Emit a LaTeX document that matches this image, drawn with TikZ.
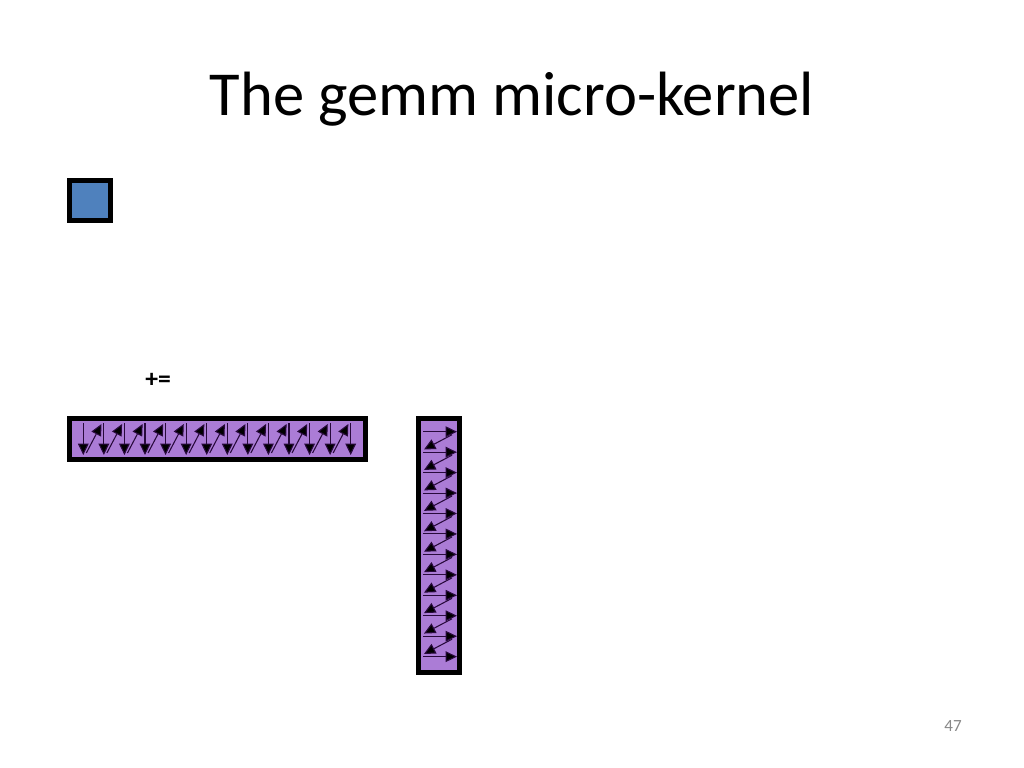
\documentclass[tikz,border=0pt]{standalone}
\usepackage{fontspec}
\setmainfont{Carlito}
\usetikzlibrary{arrows.meta}
\definecolor{barpurple}{RGB}{171,124,214}
\definecolor{boxblue}{RGB}{79,129,189}
\definecolor{arrowline}{RGB}{40,10,60}
\definecolor{pagenum}{RGB}{137,137,137}
\tikzset{
  framebox/.style={draw=black, line width=3.5pt},
  flow/.style={draw=arrowline, line width=0.75pt, -{Triangle[length=8pt,width=7.5pt,fill=black]}},
}
\begin{document}
\begin{tikzpicture}[x=0.703125pt, y=-0.703125pt]
\useasboundingbox[fill=white] (0,0) rectangle (1024,768);
% title
\node[anchor=base, font=\fontsize{44}{50}\selectfont] (title) at (512,116) {The gemm micro-kernel};
% blue square
\draw[framebox, fill=boxblue] (69.5,180.5) rectangle (110.5,220.5);
% +=
\node[font=\bfseries\fontsize{18}{20}\selectfont] (pluseq) at (158,380) {+=};
% horizontal bar
\draw[framebox, fill=barpurple] (69.5,418.5) rectangle (365.5,459.5);
\foreach \i in {0,...,13}{
  \pgfmathsetmacro{\xx}{83.3+20.57*\i}
  \draw[flow] (\xx,423) -- (\xx,455);
}
\foreach \i in {0,...,12}{
  \pgfmathsetmacro{\xa}{86.3+20.57*\i}
  \pgfmathsetmacro{\xb}{101.5+20.57*\i}
  \draw[flow] (\xa,453) -- (\xb,424);
}
% vertical bar
\draw[framebox, fill=barpurple] (418.5,418.5) rectangle (459.5,672.5);
\foreach \j in {0,...,11}{
  \pgfmathsetmacro{\yy}{431.7+20.45*\j}
  \draw[flow] (423,\yy) -- (457,\yy);
}
\foreach \j in {0,...,10}{
  \pgfmathsetmacro{\ya}{434.7+20.45*\j}
  \pgfmathsetmacro{\yb}{449.5+20.45*\j}
  \draw[flow] (452,\ya) -- (424,\yb);
}
% page number
\node[text=pagenum, font=\fontsize{12}{14}\selectfont] (pnum) at (953,726) {47};
\end{tikzpicture}
\end{document}
